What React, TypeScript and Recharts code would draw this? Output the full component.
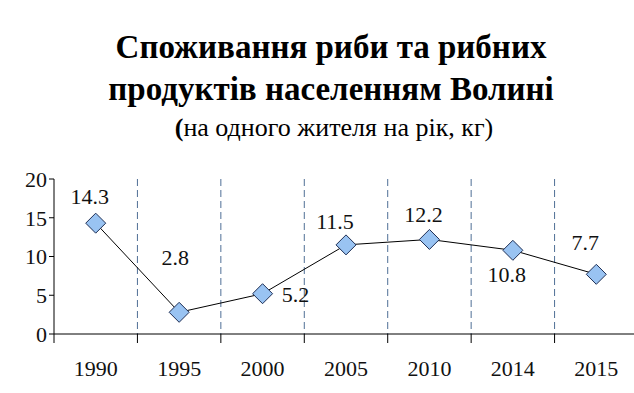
import React from 'react'
import {
  LineChart,
  Line,
  XAxis,
  YAxis,
  CartesianGrid,
  LabelList,
} from 'recharts'

const years = ['1990', '1995', '2000', '2005', '2010', '2014', '2015']
const consumption = [14.3, 2.8, 5.2, 11.5, 12.2, 10.8, 7.7]
const yTicks = [0, 5, 10, 15, 20]

// where each value label sits relative to its marker
const labelOffsets = [
  [-6, -24],
  [-4, -52],
  [33, 3],
  [-11, -21],
  [-6, -22],
  [-6, 27],
  [-11, -29],
]

const data = years.map((year, i) => ({ year, value: consumption[i] }))

const W = 640
const H = 393
const margin = { top: 179, right: 2, left: 0, bottom: 19 }
const yAxisWidth = 54
const plotWidth = W - margin.left - margin.right - yAxisWidth
const band = plotWidth / years.length
const font = '"Liberation Serif", "Times New Roman", serif'

const Diamond = (props: any) => {
  const { cx, cy } = props
  if (cx == null || cy == null) return null
  const r = 10
  return (
    <polygon
      points={`${cx},${cy - r} ${cx + r},${cy} ${cx},${cy + r} ${cx - r},${cy}`}
      fill="#99c3f2"
      stroke="#1f2f55"
      strokeWidth={1}
    />
  )
}

const XTick = (props: any) => {
  const { x, y, payload } = props
  const left = x - band / 2
  return (
    <g>
      <line x1={left} y1={y - 8} x2={left} y2={y + 1} stroke="#000" />
      <text
        x={x}
        y={y + 29}
        textAnchor="middle"
        dominantBaseline="middle"
        style={{ fontFamily: font }}
        fontSize={22}
        fill="#111"
      >
        {payload.value}
      </text>
    </g>
  )
}

const ValueLabel = (props: any) => {
  const { x, y, value, index } = props
  const [dx, dy] = labelOffsets[index]
  return (
    <text
      x={x + dx}
      y={y + dy}
      textAnchor="middle"
      dominantBaseline="middle"
      style={{ fontFamily: font }}
      fontSize={22}
      fill="#111"
    >
      {value}
    </text>
  )
}

export default function App() {
  return (
    <div
      style={{
        position: 'absolute',
        left: 0,
        top: 0,
        width: 634,
        height: 393,
        overflow: 'hidden',
        background: '#fff',
        fontFamily: font,
        color: '#000',
      }}
    >
      <div
        style={{
          position: 'absolute',
          top: 26,
          left: 14,
          width: 634,
          textAlign: 'center',
          fontWeight: 'bold',
          fontSize: 33,
          lineHeight: '42px',
        }}
      >
        Споживання риби та рибних
        <br />
        продуктів населенням Волині
      </div>
      <div
        style={{
          position: 'absolute',
          top: 113,
          left: 17,
          width: 634,
          textAlign: 'center',
          fontSize: 26,
          lineHeight: '30px',
        }}
      >
        <b>(</b>на одного жителя на рік, кг)
      </div>
      <LineChart width={W} height={H} data={data} margin={margin}>
        <CartesianGrid
          horizontal={false}
          stroke="#4f6f96"
          strokeDasharray="7 4"
          verticalCoordinatesGenerator={({ offset }: any) =>
            years.slice(1).map((_, i) => offset.left + (i + 1) * (offset.width / years.length))
          }
        />
        <XAxis
          dataKey="year"
          scale="band"
          height={40}
          axisLine={{ stroke: '#000' }}
          tickLine={false}
          tick={<XTick />}
          interval={0}
        />
        <YAxis
          width={yAxisWidth}
          domain={[0, 20]}
          ticks={yTicks}
          axisLine={{ stroke: '#000' }}
          tickLine={{ stroke: '#000' }}
          tickSize={5}
          tick={{ style: { fontFamily: font }, fontSize: 22, fill: '#111' }}
        />
        <Line
          type="linear"
          dataKey="value"
          stroke="#000"
          strokeWidth={1}
          dot={<Diamond />}
          activeDot={false}
          isAnimationActive={false}
        >
          <LabelList dataKey="value" content={<ValueLabel />} />
        </Line>
      </LineChart>
    </div>
  )
}
